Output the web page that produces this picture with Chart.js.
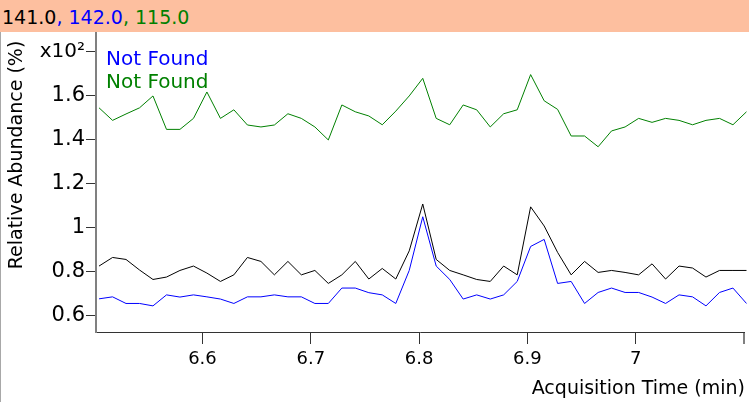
<!DOCTYPE html>
<html>
<head>
<meta charset="utf-8">
<script src="https://cdn.jsdelivr.net/npm/chart.js@4/dist/chart.umd.min.js"></script>
<style>
  html, body { margin: 0; padding: 0; background: #fff; }
  #wrap { position: relative; width: 749px; height: 402px; overflow: hidden; }
  #hdr { position: absolute; left: 0; top: 0; width: 749px; height: 32px; background: #FDBF9F;
         font-family: "DejaVu Sans", sans-serif; font-size: 19px; line-height: 34px; padding-left: 2px; box-sizing: border-box; white-space: nowrap; }
  canvas { position: absolute; left: 0; top: 0; }
</style>
</head>
<body>
<div id="wrap">
  <canvas id="c" width="749" height="402"></canvas>
  <div id="hdr"><span style="color:#000">141.0</span><span style="color:#0000FF">, 142.0</span><span style="color:#008000">, 115.0</span></div>
</div>
<script>
// Acquisition times (min)
const times = [6.5045, 6.5170, 6.5294, 6.5419, 6.5543, 6.5668, 6.5792, 6.5917, 6.6041, 6.6166,
  6.6290, 6.6415, 6.6540, 6.6664, 6.6789, 6.6913, 6.7038, 6.7162, 6.7287, 6.7411,
  6.7536, 6.7660, 6.7785, 6.7909, 6.8034, 6.8158, 6.8283, 6.8407, 6.8532, 6.8657,
  6.8781, 6.8906, 6.9030, 6.9155, 6.9279, 6.9404, 6.9528, 6.9653, 6.9777, 6.9902,
  7.0027, 7.0151, 7.0276, 7.0400, 7.0525, 7.0649, 7.0774, 7.0898, 7.1023];

// Relative abundance (x10^2 %)
const series141 = [0.826, 0.865, 0.856, 0.808, 0.765, 0.776, 0.806, 0.826, 0.794, 0.756,
  0.786, 0.865, 0.847, 0.786, 0.847, 0.786, 0.806, 0.747, 0.786, 0.847,
  0.767, 0.815, 0.767, 0.895, 1.108, 0.856, 0.806, 0.786, 0.765, 0.756,
  0.826, 0.786, 1.095, 1.008, 0.888, 0.786, 0.847, 0.797, 0.806, 0.797,
  0.786, 0.836, 0.767, 0.826, 0.817, 0.776, 0.806, 0.806, 0.806];
const series142 = [0.677, 0.686, 0.656, 0.656, 0.645, 0.695, 0.685, 0.695, 0.686, 0.676,
  0.656, 0.686, 0.686, 0.695, 0.686, 0.686, 0.656, 0.656, 0.726, 0.726,
  0.705, 0.695, 0.656, 0.806, 1.050, 0.826, 0.765, 0.676, 0.695, 0.676,
  0.695, 0.756, 0.915, 0.947, 0.747, 0.756, 0.656, 0.706, 0.726, 0.706,
  0.706, 0.685, 0.656, 0.695, 0.686, 0.645, 0.706, 0.726, 0.656];
const series115 = [1.545, 1.488, 1.517, 1.545, 1.599, 1.447, 1.447, 1.497, 1.617, 1.497,
  1.536, 1.467, 1.458, 1.467, 1.518, 1.497, 1.458, 1.399, 1.558, 1.527,
  1.508, 1.468, 1.530, 1.599, 1.679, 1.497, 1.468, 1.558, 1.536, 1.458,
  1.518, 1.536, 1.696, 1.577, 1.538, 1.417, 1.417, 1.368, 1.440, 1.458,
  1.497, 1.479, 1.497, 1.488, 1.468, 1.488, 1.497, 1.468, 1.527];

const xTicks = [6.6, 6.7, 6.8, 6.9, 7.0, 7.1];
const xTickLabels = ["6.6", "6.7", "6.8", "6.9", "7", ""];
const yTicks = [0.6, 0.8, 1.0, 1.2, 1.4, 1.6, 1.8];
const yTickLabels = ["0.6", "0.8", "1", "1.2", "1.4", "1.6", "x10\u00B2"];
const legendLabels = ["Not Found", "Not Found"];
const xTitle = "Acquisition Time (min)";
const yTitle = "Relative Abundance (%)";

const FONT = '"DejaVu Sans", sans-serif';
const pts = arr => arr.map((v, i) => ({x: times[i], y: v}));

const decor = {
  id: 'decor',
  afterDraw(chart) {
    const ctx = chart.ctx;
    ctx.save();
    // left border
    ctx.fillStyle = '#A8A8A8';
    ctx.fillRect(0, 32, 1, 370);
    // y title
    ctx.fillStyle = '#000';
    ctx.font = '19px ' + FONT;
    ctx.textAlign = 'center';
    ctx.textBaseline = 'middle';
    ctx.translate(17, 155);
    ctx.rotate(-Math.PI / 2);
    ctx.fillText(yTitle, 0, 0);
    ctx.restore();
    ctx.save();
    // x title
    ctx.fillStyle = '#000';
    ctx.font = '19px ' + FONT;
    ctx.textAlign = 'right';
    ctx.textBaseline = 'alphabetic';
    ctx.fillText(xTitle, 745, 394);
    // legend texts
    ctx.font = '20px ' + FONT;
    ctx.textAlign = 'left';
    ctx.fillStyle = '#0000FF';
    ctx.fillText(legendLabels[0], 106, 65);
    ctx.fillStyle = '#008000';
    ctx.fillText(legendLabels[1], 106, 88);
    ctx.restore();
  }
};

new Chart(document.getElementById('c'), {
  type: 'line',
  data: {
    datasets: [
      {label: '141.0', data: pts(series141), borderColor: '#000000', borderWidth: 1, pointRadius: 0, tension: 0, clip: 4},
      {label: '142.0', data: pts(series142), borderColor: '#0000FF', borderWidth: 1, pointRadius: 0, tension: 0, clip: 4},
      {label: '115.0', data: pts(series115), borderColor: '#008000', borderWidth: 1, pointRadius: 0, tension: 0, clip: 4}
    ]
  },
  options: {
    responsive: false,
    animation: false,
    events: [],
    layout: {padding: {top: 33, right: 4, left: 0, bottom: 0}},
    plugins: {legend: {display: false}, tooltip: {enabled: false}},
    scales: {
      x: {
        type: 'linear',
        min: 6.5017,
        max: 7.1,
        afterFit: s => { s.height = 70; },
        afterBuildTicks: s => { s.ticks = xTicks.map(v => ({value: v})); },
        ticks: {
          callback: (v, i) => xTickLabels[i],
          font: {family: FONT, size: 18},
          color: '#000',
          padding: 5,
          maxRotation: 0,
          autoSkip: false
        },
        grid: {drawOnChartArea: false, drawTicks: true, tickLength: 12,
               color: c => (c.index === xTicks.length - 1 ? '#808080' : '#333333'),
               lineWidth: c => (c.index === xTicks.length - 1 ? 2 : 1)},
        border: {display: true, color: '#333333', width: 1}
      },
      y: {
        type: 'linear',
        min: 0.5263,
        max: 1.885,
        afterFit: s => { s.width = 96; },
        afterBuildTicks: s => { s.ticks = yTicks.map(v => ({value: v})); },
        ticks: {
          callback: (v, i) => yTickLabels[i],
          font: c => ({family: FONT, size: c.index === yTicks.length - 1 ? 20 : 21}),
          color: '#000',
          padding: 1,
          autoSkip: false
        },
        grid: {drawOnChartArea: false, drawTicks: true, tickLength: 10, color: '#333333', lineWidth: 1},
        border: {display: true, color: '#808080', width: 2}
      }
    }
  },
  plugins: [decor]
});
</script>
</body>
</html>
